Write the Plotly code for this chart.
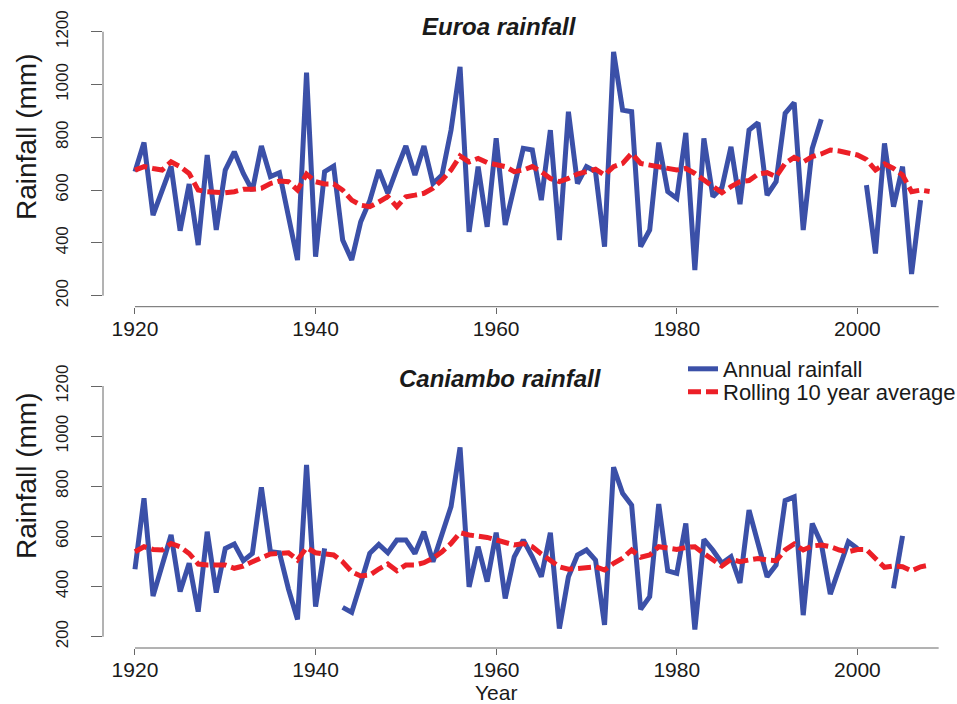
import plotly.graph_objects as go

years = list(range(1920, 2009))

euroa_annual = [
    670, 780, 505, 600, 690, 446, 623, 392, 733, 449,
    676, 745, 663, 598, 767, 651, 666, 500, 335, 1045,
    348, 670, 691, 411, 335, 480, 560, 676, 588, 680,
    767, 657, 767, 625, 657, 827, 1067, 442, 689, 461,
    796, 468, 610, 758, 752, 562, 827, 411, 897, 625,
    689, 670, 386, 1124, 903, 897, 386, 449, 780, 594,
    569, 817, 297, 796, 575, 610, 764, 547, 827, 855,
    581, 632, 891, 931, 449, 758, 868, None, None, None,
    None, 619, 360, 777, 537, 689, 282, 562, None,
]

euroa_rolling = [
    676, 689, 682, 676, 707, 689, 663, 600, 594, 590,
    590, 594, 603, 603, 607, 625, 634, 632, 600, 661,
    632, 623, 623, 600, 562, 543, 537, 555, 575, 537,
    575, 581, 588, 607, 638, 676, 729, 707, 720, 704,
    695, 689, 670, 676, 689, 670, 644, 632, 644, 661,
    670, 679, 657, 689, 701, 739, 701, 695, 689, 682,
    676, 682, 663, 638, 613, 590, 613, 632, 636, 661,
    666, 651, 701, 724, 707, 727, 737, 752, 748, 739,
    733, 716, 676, 699, 682, 657, 594, 600, 595,
]

caniambo_annual = [
    469, 752, 362, 480, 606, 380, 493, 300, 619, 376,
    552, 570, 503, 532, 796, 539, 535, 390, 269, 885,
    320, 552, None, 317, 297, 413, 533, 568, 535, 586,
    586, 532, 619, 499, 610, 719, 955, 399, 559, 420,
    615, 353, 519, 586, 519, 439, 615, 233, 439, 526,
    546, 506, 247, 876, 772, 725, 309, 360, 729, 463,
    453, 652, 229, 588, 545, 493, 519, 415, 705, 572,
    439, 486, 743, 758, 286, 652, 572, 370, 475, 579,
    552, None, None, None, 393, 602, None, None, None,
]

caniambo_rolling = [
    539, 559, 548, 546, 572, 559, 532, 490, 486, 486,
    486, 473, 482, 499, 513, 530, 532, 535, 506, 555,
    535, 532, 526, 499, 459, 442, 446, 470, 490, 463,
    486, 486, 495, 513, 539, 572, 615, 606, 603, 596,
    586, 575, 566, 572, 559, 530, 503, 479, 469, 473,
    479, 479, 466, 493, 513, 546, 517, 526, 559, 552,
    548, 556, 559, 532, 506, 482, 509, 499, 506, 512,
    506, 503, 546, 570, 546, 562, 566, 559, 546, 539,
    548, 548, 512, 477, 482, 479, 463, 479, 486,
]

x_ticks = [1920, 1940, 1960, 1980, 2000]
y_ticks = [200, 400, 600, 800, 1000, 1200]
titles = ["Euroa rainfall", "Caniambo rainfall"]
series_names = ["Annual rainfall", "Rolling 10 year average"]

BLUE = "#3b50a8"
RED = "#ec1f27"
AXC = "#666666"
TXT = "#1a1a1a"
FONT = "Liberation Sans, Arial, sans-serif"
W, H = 957, 704

fig = go.Figure()

panels = [
    ("x", "y", euroa_annual, euroa_rolling, True),
    ("x2", "y2", caniambo_annual, caniambo_rolling, False),
]
for xa, ya, ann, roll, show in panels:
    fig.add_trace(go.Scatter(
        x=years, y=ann, mode="lines", name=series_names[0],
        line=dict(color=BLUE, width=5), connectgaps=False,
        xaxis=xa, yaxis=ya, showlegend=show, legend="legend"))
    fig.add_trace(go.Scatter(
        x=years, y=roll, mode="lines", name=series_names[1],
        line=dict(color=RED, width=5, dash="13px,5px"), connectgaps=False,
        xaxis=xa, yaxis=ya, showlegend=show, legend="legend2"))

def px_x(p):
    return p / W

def px_y(p):
    return 1 - p / H

xdom = [px_x(103), 1.0]
xrange_ = [1916.46, 2011.03]

common_x = dict(range=xrange_, domain=xdom, tickvals=x_ticks, ticks="outside",
                ticklen=6, tickcolor=AXC, tickwidth=1, showline=False,
                showgrid=False, zeroline=False, automargin=False,
                ticklabelstandoff=-3,
                tickfont=dict(family=FONT, size=21, color=TXT))
common_y = dict(tickvals=y_ticks, ticks="outside", ticklen=11, tickcolor=AXC,
                tickwidth=1, showline=False, showgrid=False, zeroline=False,
                tickangle=-90, ticklabelstandoff=16, automargin=False,
                tickfont=dict(family=FONT, size=17, color=TXT))

leg_common = dict(xanchor="left", yanchor="middle",
                  bgcolor="rgba(0,0,0,0)", font=dict(family=FONT, size=22, color=TXT),
                  borderwidth=0)

fig.update_layout(
    width=W, height=H,
    margin=dict(l=0, r=0, t=0, b=0, autoexpand=False),
    paper_bgcolor="white", plot_bgcolor="white",
    xaxis=dict(anchor="y", **common_x),
    yaxis=dict(anchor="x", domain=[px_y(306.7), px_y(20.7)], range=[158.3, 1241.7], **common_y),
    xaxis2=dict(anchor="y2", **common_x),
    yaxis2=dict(anchor="x2", domain=[px_y(648), px_y(376)], range=[155, 1240], **common_y),
    legend=dict(x=px_x(683), y=px_y(369), **leg_common),
    legend2=dict(x=px_x(683), y=px_y(392), **leg_common),
    showlegend=True,
)

shapes = []
for xa, ya in [("x", "y"), ("x2", "y2")]:
    shapes.append(dict(type="line", xref=f"{xa} domain", yref=ya, x0=0, x1=0,
                       y0=y_ticks[0], y1=y_ticks[-1], line=dict(color=AXC, width=1)))
    shapes.append(dict(type="line", xref=xa, yref=f"{ya} domain", x0=x_ticks[0], x1=2009,
                       y0=0, y1=0, line=dict(color=AXC, width=1)))
fig.update_layout(shapes=shapes)

annotations = [
    dict(text=f"<b><i>{titles[0]}</i></b>", x=px_x(499), y=px_y(26), xref="paper", yref="paper",
         showarrow=False, xanchor="center", yanchor="middle",
         font=dict(family=FONT, size=24, color=TXT)),
    dict(text=f"<b><i>{titles[1]}</i></b>", x=px_x(500), y=px_y(378), xref="paper", yref="paper",
         showarrow=False, xanchor="center", yanchor="middle",
         font=dict(family=FONT, size=24, color=TXT)),
    dict(text="Rainfall (mm)", x=px_x(26), y=px_y(137), xref="paper", yref="paper",
         showarrow=False, xanchor="center", yanchor="middle", textangle=-90,
         font=dict(family=FONT, size=28, color=TXT)),
    dict(text="Rainfall (mm)", x=px_x(26), y=px_y(476), xref="paper", yref="paper",
         showarrow=False, xanchor="center", yanchor="middle", textangle=-90,
         font=dict(family=FONT, size=28, color=TXT)),
    dict(text="Year", x=px_x(496), y=px_y(704), xref="paper", yref="paper",
         showarrow=False, xanchor="center", yanchor="bottom", yshift=-2,
         font=dict(family=FONT, size=21, color=TXT)),
]
fig.update_layout(annotations=annotations)

fig.write_html(
    "out.html",
    config={"displayModeBar": False},
    post_script="document.body.style.margin='0';document.body.style.padding='0';"
                "document.body.style.overflow='hidden';",
)
